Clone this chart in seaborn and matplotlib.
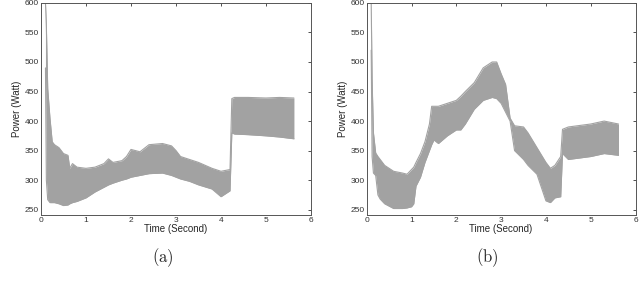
import matplotlib
matplotlib.use("Agg")
from matplotlib import pyplot as plt
import seaborn as sns
import pandas as pd

# envelope of the power trace (time in s, power in W)
time_a = [0.10, 0.12, 0.15, 0.20, 0.25, 0.30, 0.40, 0.50, 0.60, 0.64, 0.70, 0.80, 1.00, 1.20, 1.40, 1.50,
          1.60, 1.80, 1.90, 2.00, 2.20, 2.40, 2.70, 2.90, 3.00, 3.10, 3.30, 3.50, 3.80, 4.00, 4.20,
          4.24, 4.30, 4.60, 5.00, 5.30, 5.62]
upper_a = [600, 560, 455, 405, 365, 360, 355, 345, 342, 320, 328, 322, 320, 322, 328, 336,
           330, 333, 340, 352, 348, 360, 362, 358, 350, 340, 335, 330, 320, 315, 318,
           438, 440, 440, 439, 440, 439]
lower_a = [490, 300, 267, 262, 262, 262, 260, 257, 258, 260, 262, 264, 270, 280, 288, 292,
           295, 300, 302, 305, 308, 311, 312, 308, 305, 302, 298, 292, 285, 272, 282,
           380, 378, 377, 375, 373, 370]

time_b = [0.10, 0.12, 0.15, 0.20, 0.25, 0.30, 0.40, 0.60, 0.80, 0.90, 1.00, 1.05, 1.10, 1.20, 1.30, 1.40,
          1.45, 1.50, 1.60, 1.80, 2.00, 2.10, 2.20, 2.40, 2.60, 2.80, 2.90, 3.00, 3.10, 3.20,
          3.30, 3.50, 3.60, 3.80, 4.00, 4.10, 4.20, 4.33, 4.37, 4.50, 5.00, 5.30, 5.62]
upper_b = [600, 470, 380, 346, 340, 335, 325, 315, 312, 310, 318, 322, 330, 345, 365, 395,
           425, 425, 425, 430, 435, 442, 450, 465, 490, 500, 500, 480, 462, 405,
           392, 390, 380, 355, 330, 320, 325, 340, 386, 390, 395, 400, 395]
lower_b = [520, 340, 312, 308, 275, 268, 260, 252, 252, 253, 255, 260, 290, 305, 330, 350,
           360, 368, 362, 375, 385, 385, 395, 420, 435, 440, 438, 430, 415, 400,
           350, 335, 325, 310, 265, 262, 270, 272, 345, 335, 340, 345, 342]

panels = [("(a)", time_a, upper_a, lower_a), ("(b)", time_b, upper_b, lower_b)]

sns.set_style("white")
plt.rcParams["font.family"] = ["Liberation Sans", "DejaVu Sans"]
plt.rcParams["mathtext.fontset"] = "cm"

fig = plt.figure(figsize=(6.4, 2.89), dpi=100)
boxes = [[0.064, 0.256, 0.422, 0.734], [0.573, 0.256, 0.420, 0.734]]
trace = "#a2a2a2"

for box, (cap, t, hi, lo) in zip(boxes, panels):
    ax = fig.add_axes(box)
    df = pd.DataFrame({"t": t, "hi": hi, "lo": lo})
    ax.fill_between(df["t"], df["lo"], df["hi"], color=trace, lw=0)
    sns.lineplot(data=df, x="t", y="hi", ax=ax, color=trace, lw=0.8)
    sns.lineplot(data=df, x="t", y="lo", ax=ax, color=trace, lw=0.8)
    ax.set_xlim(0, 6)
    ax.set_ylim(241, 600)
    ax.set_xticks(range(0, 7))
    ax.set_yticks(range(250, 601, 50))
    ax.tick_params(direction="in", length=2.5, width=0.6, labelsize=6, pad=1.5,
                   top=True, right=True, colors="#333333")
    for s in ax.spines.values():
        s.set_color("#555555")
        s.set_linewidth(0.7)
    ax.set_xlabel("Time (Second)", fontsize=7, labelpad=0)
    ax.set_ylabel("Power (Watt)", fontsize=7, labelpad=2)
    ax.text(0.45, -0.20, r"$\mathrm{" + cap + "}$", transform=ax.transAxes,
            ha="center", va="center", fontsize=12)

fig.savefig("out.png", dpi=100)
